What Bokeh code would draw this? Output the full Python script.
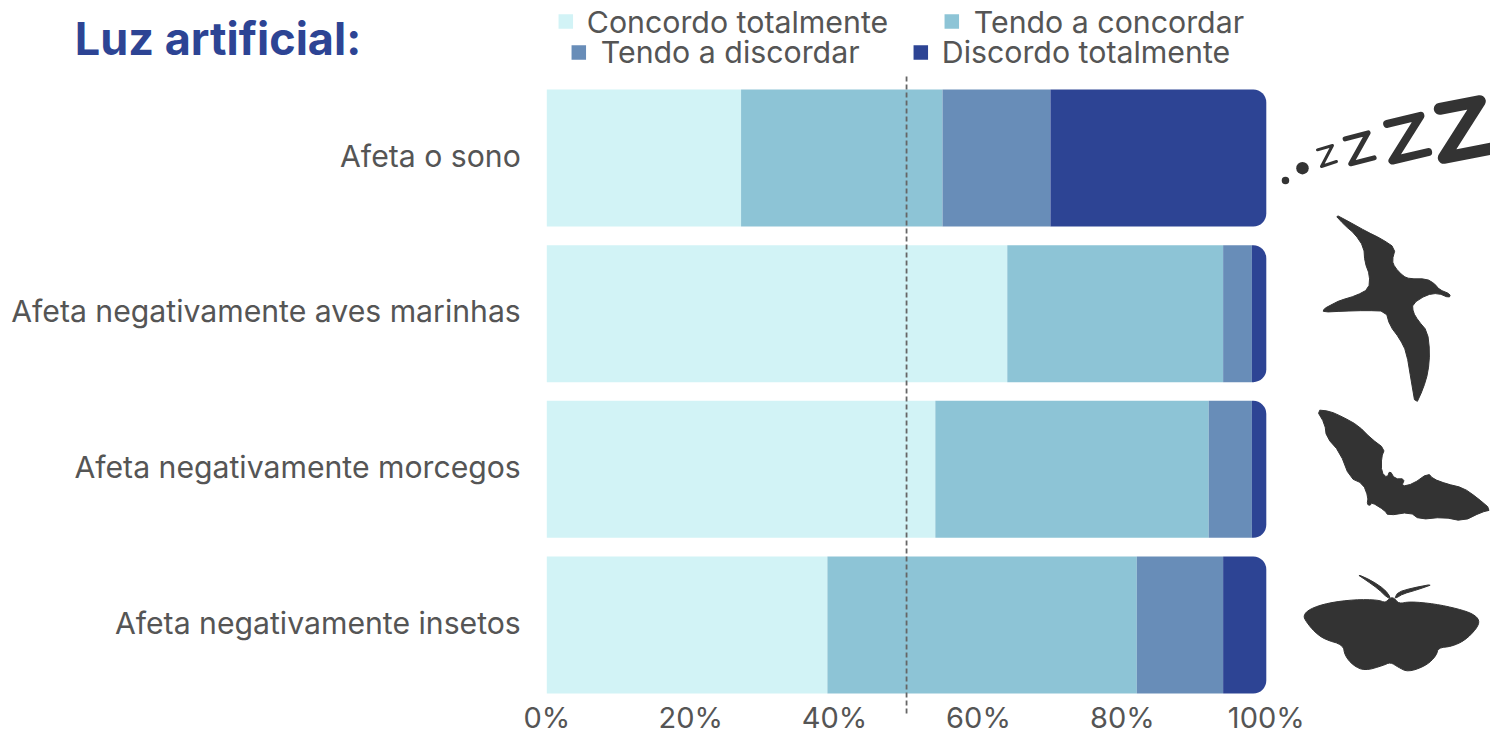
from bokeh.plotting import figure
from bokeh.models import Range1d, FixedTicker, Label
from bokeh.embed import file_html
from bokeh.resources import INLINE
import numpy as np

categories = ["Afeta o sono", "Afeta negativamente aves marinhas", "Afeta negativamente morcegos", "Afeta negativamente insetos"]
concordo_total = [27, 64, 54, 39]
tendo_concordar = [28, 30, 38, 43]
tendo_discordar = [15, 4, 6, 12]
discordo_total = [30, 2, 2, 6]
series_names = ["Concordo totalmente", "Tendo a concordar", "Tendo a discordar", "Discordo totalmente"]
series_colors = ["#d2f3f6", "#8dc4d6", "#688db8", "#2d4494"]
pct_ticks = [0, 20, 40, 60, 80, 100]
FONT = "Inter"
TEXT = "#555555"

PX_PER_PCT = 7.195
X = lambda px: (px - 547) / PX_PER_PCT
Y = lambda py: (py - 157.5) / 155.67

p = figure(width=1490, height=734, output_backend="svg", toolbar_location=None,
           x_range=Range1d(X(0.7), X(1490.7)), y_range=Range1d(Y(734), Y(0)),
           min_border_left=0, min_border_right=0, min_border_top=0, min_border_bottom=0,
           outline_line_color=None, background_fill_color="white")
p.grid.visible = False

p.xaxis.ticker = FixedTicker(ticks=pct_ticks)
p.xaxis.bounds = (0, 100)
p.xaxis.major_label_overrides = {t: f"{t}%" for t in pct_ticks}
p.xaxis.fixed_location = Y(714)
LABEL_SHIFT = 0.015
y_ticks = [round(i - LABEL_SHIFT, 3) for i in range(len(categories))]
p.yaxis.ticker = FixedTicker(ticks=y_ticks)
p.yaxis.major_label_overrides = dict(zip(y_ticks, categories))
p.yaxis.fixed_location = 0
for ax, size in ((p.xaxis, "29px"), (p.yaxis, "30.2px")):
    ax.axis_line_color = None
    ax.major_tick_line_color = None
    ax.minor_tick_line_color = None
    ax.major_label_text_font = FONT
    ax.major_label_text_font_size = size
    ax.major_label_text_color = TEXT
p.yaxis.major_label_standoff = 20
p.xaxis.major_label_standoff = -21

rows = np.arange(len(categories))
stack = [concordo_total, tendo_concordar, tendo_discordar, discordo_total]
left = np.zeros(len(categories))
for i, (vals, col) in enumerate(zip(stack, series_colors)):
    right = left + np.array(vals)
    kw = {"border_radius": (0, 13, 13, 0)} if i == 3 else {}
    p.hbar(y=rows, left=left, right=right, height=137 / 155.67, fill_color=col, line_color=None, **kw)
    left = right

p.segment(x0=[50], x1=[50], y0=[Y(76)], y1=[Y(714)], line_color="#666666", line_width=1.8, line_dash="5 3")

# title and legend
p.add_layout(Label(x=X(75), y=Y(38), text="Luz artificial:", text_font=FONT,
                   text_font_style="bold", text_font_size="45px", text_color="#2d4494", text_baseline="middle"))
legend_key_px = [(566, 21), (952, 21), (579, 52), (921, 52)]
legend_text_px = [(587, 21), (974, 21), (601, 51), (942, 51)]
for name, col, (kx, ky), (tx, ty) in zip(series_names, series_colors, legend_key_px, legend_text_px):
    p.scatter([X(kx)], [Y(ky)], marker="square", size=14.5, fill_color=col, line_color=None)
    p.add_layout(Label(x=X(tx), y=Y(ty), text=name, text_font=FONT, text_font_size="30.3px",
                       text_color=TEXT, text_baseline="middle"))

# icons (decorative silhouettes, traced in pixels of each crop)
ICON = "#333333"
def smooth(pts, n):
    for _ in range(n):
        a = np.array(pts, float)
        b = np.roll(a, -1, axis=0)
        pts = np.column_stack((0.75 * a + 0.25 * b, 0.25 * a + 0.75 * b)).reshape(-1, 2).tolist()
    return pts
def shape(pts, ox, oy):
    return [X(ox + a / 3) for a, b in pts], [Y(oy + b / 3) for a, b in pts]

bird = [(103,25),(150,50),(200,78),(245,100),(287,128),(277,165),(285,185),(310,212),(330,220),(380,220),(405,235),(418,252),(452,266),(448,277),(415,263),(380,268),(338,295),(340,320),(355,345),(383,378),(390,440),(385,500),(370,550),(347,600),(335,530),(320,440),(300,400),(270,360),(258,317),(200,315),(130,317),(70,320),(72,310),(100,295),(120,285),(170,270),(207,250),(210,210),(195,170),(192,125),(165,85),(135,60)]
bat = [(50,28),(90,32),(130,50),(175,75),(215,115),(255,145),(245,170),(245,215),(262,232),(270,210),(285,235),(315,235),(305,258),(340,250),(385,218),(400,235),(440,250),(490,262),(530,290),(575,328),(545,335),(490,362),(430,350),(360,357),(330,335),(265,345),(255,330),(215,305),(212,315),(202,312),(205,290),(190,250),(150,232),(120,155),(80,110),(75,70)]
moth = [(25,150),(45,130),(100,112),(180,102),(250,103),(272,112),(285,97),(298,97),(312,115),(345,108),(420,115),(490,130),(535,145),(555,165),(545,190),(510,225),(470,243),(430,247),(425,270),(395,300),(340,320),(310,305),(287,290),(265,300),(210,316),(175,300),(150,270),(145,238),(90,222),(60,200),(35,170)]
ant1 = [(185,25),(230,45),(270,72),(288,97),(278,97),(250,70),(215,45)]
ant2 = [(300,97),(310,80),(350,68),(418,55),(370,72),(325,85),(305,97)]
for pts, ox, oy, n in ((bird, 1300, 205, 1), (bat, 1300, 400, 1), (moth, 1295, 565, 2), (ant1, 1295, 565, 1), (ant2, 1295, 565, 1)):
    xs, ys = shape(smooth(pts, n), ox, oy)
    p.patch(xs, ys, fill_color=ICON, line_color=ICON, line_width=1)

zs = [([(143,208),(188,195),(155,258),(200,243)], 3),
      ([(226,175),(295,157),(243,250),(313,232)], 5),
      ([(352,130),(452,106),(368,240),(475,215)], 8),
      ([(510,85),(630,62),(522,232),(660,205)], 12)]
for pts, w in zs:
    xs, ys = shape(pts, 1270, 80)
    p.line(xs, ys, line_color=ICON, line_width=w, line_join="round", line_cap="round")
for (a, b, d) in ((47, 300, 7.5), (98, 263, 12.5)):
    xs, ys = shape([(a, b)], 1270, 80)
    p.scatter(xs, ys, size=d, fill_color=ICON, line_color=None)

open("out.html", "w").write(file_html(p, INLINE))
